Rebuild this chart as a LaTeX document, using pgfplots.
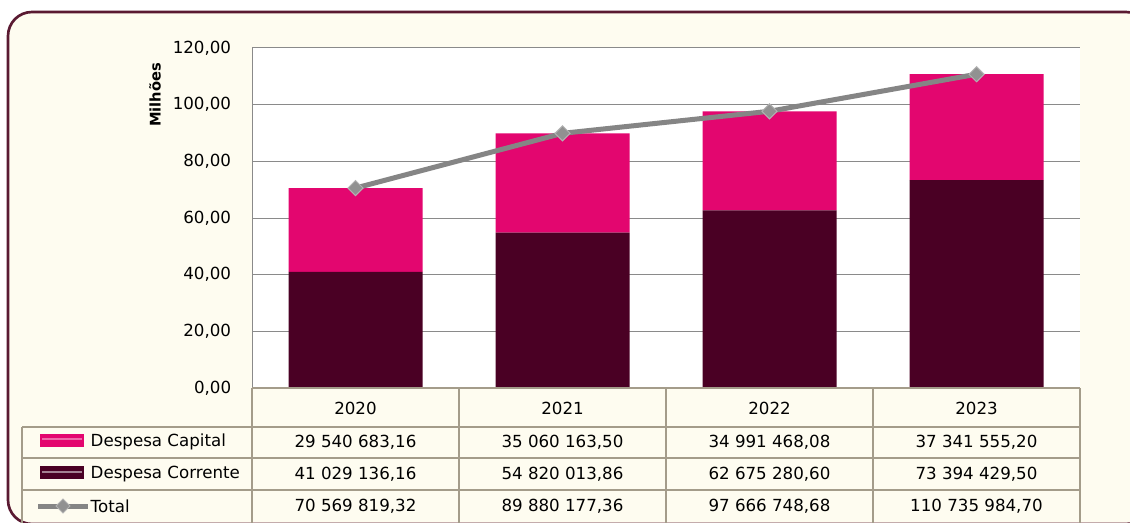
\documentclass[border=0pt]{standalone}
\usepackage{fontspec}
\setmainfont{DejaVu Sans}
\usepackage{pgfplots}
\pgfplotsset{compat=1.18}
\definecolor{cream}{HTML}{FEFCF0}
\definecolor{frame}{HTML}{5A1A32}
\definecolor{capital}{HTML}{E3066F}
\definecolor{corrente}{HTML}{4A0024}
\definecolor{gridc}{HTML}{8A8A8A}
\definecolor{tabc}{HTML}{A49C8A}
\definecolor{totc}{HTML}{858585}
\newcommand{\tf}{\fontsize{12.5}{14}\selectfont}

\begin{document}
\begin{tikzpicture}[x=0.75pt,y=0.75pt]
\useasboundingbox (0,0) rectangle (1130,522);
\fill[white] (0,0) rectangle (1130,522);
\draw[fill=cream,draw=frame,line width=2pt,rounded corners=18] (8,-2) rectangle (1150,510);

% bars
\begin{axis}[at={(189pt,100.5pt)},anchor=south west,scale only axis,width=621pt,height=255pt,
  xmin=-0.5,xmax=3.5,ymin=0,ymax=120,ybar stacked,bar width=100.5pt,
  axis background/.style={fill=white},
  axis y line=left,axis x line=bottom,axis line style={-,draw=gridc,line width=0.75pt},
  xtick=\empty,ytick={0,20,...,120},tick style={draw=none},
  ymajorgrids,grid style={draw=gridc,line width=0.75pt},
  yticklabel style={font=\tf,xshift=-10pt},
  yticklabel={\pgfmathprintnumber[fixed,fixed zerofill,precision=2,use comma,assume math mode=true]{\tick}}]
  \addplot[fill=corrente,draw=none] coordinates {(0,41.029) (1,54.820) (2,62.675) (3,73.394)};
  \addplot[fill=capital,draw=none] coordinates {(0,29.541) (1,35.060) (2,34.991) (3,37.342)};
\end{axis}

% total line
\begin{axis}[at={(189pt,100.5pt)},anchor=south west,scale only axis,width=621pt,height=255pt,
  xmin=-0.5,xmax=3.5,ymin=0,ymax=120,hide axis,clip=false]
  \addplot[totc,line width=3.75pt,mark=square*,mark size=4pt,
    mark options={rotate=45,fill=totc!90,draw=gray!60,line width=0.75pt}]
    coordinates {(0,70.570) (1,89.880) (2,97.667) (3,110.736)};
\end{axis}

\node[rotate=90,font=\bfseries\fontsize{11}{13}\selectfont] at (155,427) {Milhões};

% data table
\begin{scope}[tabc,line width=1.1pt]
  \draw (252,134) -- (1080,134);
  \draw (22,95) -- (1080,95);
  \draw (22,64) -- (1080,64);
  \draw (22,32) -- (1080,32);
  \draw (22,95) -- (22,-5);
  \foreach \x in {252,459,666,873,1080} \draw (\x,134) -- (\x,-5);
\end{scope}

\foreach \x/\t in {355.5/2020,562.5/2021,769.5/2022,976.5/2023}
  \node[font=\tf] at (\x,114) {\t};

\fill[capital] (40,75) rectangle (84,88);
\fill[capital!60!white] (42,82) rectangle (82,84);
\fill[corrente] (40,43) rectangle (84,56);
\fill[corrente!50!white] (42,49.5) rectangle (82,51.5);
\draw[totc,line width=3.75pt] (38,16) -- (88,16);
\fill[totc!90,draw=gray!60,line width=0.75pt] (63,23) -- (70,16) -- (63,9) -- (56,16) -- cycle;

\node[font=\tf,anchor=west] at (86,80) {Despesa Capital};
\node[font=\tf,anchor=west] at (86,48) {Despesa Corrente};
\node[font=\tf,anchor=west] at (86,16) {Total};

\foreach \x/\a/\b/\c in {
  355.5/{29 540 683,16}/{41 029 136,16}/{70 569 819,32},
  562.5/{35 060 163,50}/{54 820 013,86}/{89 880 177,36},
  769.5/{34 991 468,08}/{62 675 280,60}/{97 666 748,68},
  976.5/{37 341 555,20}/{73 394 429,50}/{110 735 984,70}}{
  \node[font=\tf] at (\x,80) {\a};
  \node[font=\tf] at (\x,48) {\b};
  \node[font=\tf] at (\x,16) {\c};
}
\end{tikzpicture}
\end{document}
